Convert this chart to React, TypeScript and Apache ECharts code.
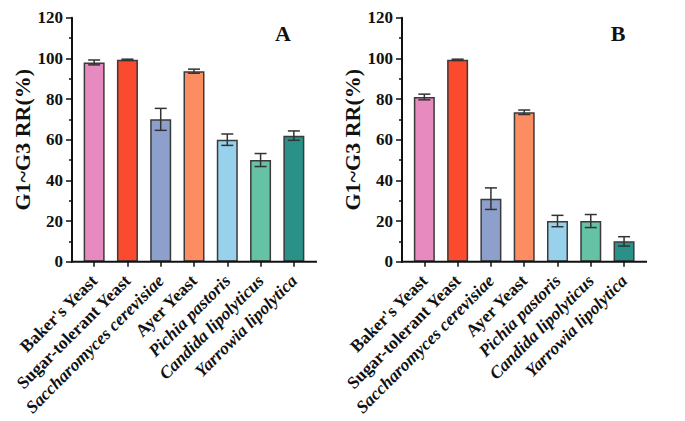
import React, { useEffect, useRef } from "react";
import * as echarts from "echarts";

const categories = [
  "Baker's Yeast",
  "Sugar-tolerant Yeast",
  "Saccharomyces cerevisiae",
  "Ayer Yeast",
  "Pichia pastoris",
  "Candida lipolyticus",
  "Yarrowia lipolytica",
];
const italicNames = ["Saccharomyces cerevisiae", "Pichia pastoris", "Candida lipolyticus", "Yarrowia lipolytica"];
const valuesA = [98, 99.3, 70, 93.7, 60, 50, 62];
const errorsA = [1.2, 0.3, 5.4, 1.0, 2.8, 3.2, 2.3];
const valuesB = [81, 99.3, 31, 73.5, 20, 20, 10];
const errorsB = [1.4, 0.3, 5.3, 1.1, 2.8, 3.2, 2.3];
const yTicks = { min: 0, max: 120, interval: 20 };
const panelLabels = ["A", "B"];
const yAxisTitle = "G1~G3 RR(%)";

const palette = ["#e68ac0", "#fc4a2e", "#8da0cb", "#fc8d62", "#98d1eb", "#66c2a5", "#2a9188"];
const FONT = "'Liberation Serif', 'Times New Roman', serif";

export default function App() {
  const ref = useRef<HTMLDivElement>(null);
  useEffect(() => {
    document.body.style.margin = "0";
    if (!ref.current) return;
    const chart = echarts.init(ref.current, null, { renderer: "svg" });

    const grids = [
      { left: 77.5, top: 17.7, width: 233, height: 244 },
      { left: 407.7, top: 17.7, width: 233, height: 244 },
    ];

    const xAxes = grids.map((_, i) => ({
      type: "category",
      gridIndex: i,
      data: categories,
      axisLine: { show: false },
      axisTick: { show: true, alignWithLabel: true, length: 5, lineStyle: { color: "#111", width: 1.5 } },
      axisLabel: {
        rotate: 45,
        margin: 16,
        interval: 0,
        formatter: (v: string) => (italicNames.includes(v) ? `{i|${v}}` : `{n|${v}}`),
        rich: {
          i: { fontFamily: FONT, fontWeight: "bold", fontStyle: "italic", fontSize: 17.5, color: "#111" },
          n: { fontFamily: FONT, fontWeight: "bold", fontSize: 17.5, color: "#111" },
        },
      },
    }));

    const yAxes = grids.map((_, i) => ({
      type: "value",
      gridIndex: i,
      min: yTicks.min,
      max: yTicks.max,
      interval: yTicks.interval,
      offset: i === 0 ? 5.5 : 5.7,
      name: yAxisTitle,
      nameLocation: "middle",
      nameGap: 37,
      nameRotate: 90,
      nameTextStyle: { fontFamily: FONT, fontWeight: "bold", fontSize: 22, color: "#111" },
      axisLine: { show: true, lineStyle: { color: "#111", width: 2 } },
      axisTick: { show: true, length: 6, lineStyle: { color: "#111", width: 1.5 } },
      minorTick: { show: true, splitNumber: 2, length: 3, lineStyle: { color: "#111", width: 1.5 } },
      splitLine: { show: false },
      axisLabel: { fontFamily: FONT, fontWeight: "bold", fontSize: 17, color: "#111", margin: 9 },
    }));

    const datasets = [
      { values: valuesA, errors: errorsA },
      { values: valuesB, errors: errorsB },
    ];

    const series: any[] = [];
    datasets.forEach((d, i) => {
      series.push({
        type: "bar",
        xAxisIndex: i,
        yAxisIndex: i,
        barWidth: 21,
        data: d.values.map((v, k) => ({
          value: v,
          itemStyle: { color: palette[k], borderColor: "#3a3a3a", borderWidth: 1.5 },
        })),
      });
      series.push({
        type: "custom",
        xAxisIndex: i,
        yAxisIndex: i,
        z: 5,
        data: d.values.map((v, k) => [k, v, d.errors[k]]),
        renderItem: (params: any, api: any) => {
          const x = api.value(0);
          const v = api.value(1);
          const e = api.value(2);
          const top = api.coord([x, v + e]);
          const bot = api.coord([x, v - e]);
          const hw = 6;
          const style = { stroke: "#333", lineWidth: 1.5 };
          return {
            type: "group",
            children: [
              { type: "line", shape: { x1: top[0], y1: top[1], x2: bot[0], y2: bot[1] }, style },
              { type: "line", shape: { x1: top[0] - hw, y1: top[1], x2: top[0] + hw, y2: top[1] }, style },
              { type: "line", shape: { x1: bot[0] - hw, y1: bot[1], x2: bot[0] + hw, y2: bot[1] }, style },
            ],
          };
        },
      });
    });

    chart.setOption({
      animation: false,
      grid: grids,
      xAxis: xAxes,
      yAxis: yAxes,
      series,
      graphic: [
        { type: "line", shape: { x1: 71, y1: 261.7, x2: 317, y2: 261.7 }, style: { stroke: "#111", lineWidth: 2 }, z: 10 },
        { type: "line", shape: { x1: 401, y1: 261.7, x2: 647, y2: 261.7 }, style: { stroke: "#111", lineWidth: 2 }, z: 10 },
        {
          type: "text",
          x: 283,
          y: 33,
          style: { text: panelLabels[0], font: `bold 22px ${FONT}`, fill: "#111", align: "center", verticalAlign: "middle" },
        },
        {
          type: "text",
          x: 618,
          y: 33,
          style: { text: panelLabels[1], font: `bold 22px ${FONT}`, fill: "#111", align: "center", verticalAlign: "middle" },
        },
      ],
    });
    return () => chart.dispose();
  }, []);
  return <div ref={ref} style={{ width: 685, height: 421 }} />;
}
